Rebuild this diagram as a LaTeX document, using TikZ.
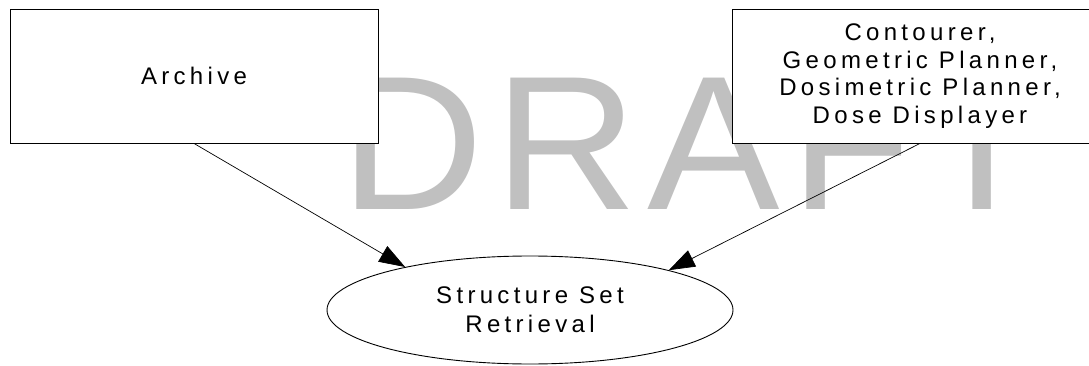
\documentclass[tikz,border=0pt]{standalone}
\usepackage{fontspec}
\usetikzlibrary{arrows.meta,shapes.geometric}
\newfontfamily\labelfont[LetterSpace=18]{Liberation Sans}
\newfontfamily\wmfont[LetterSpace=5.2, FakeStretch=1.04]{Liberation Sans}
\definecolor{wmgray}{RGB}{192,192,192}
\tikzset{
  box/.style={draw=black, fill=white, line width=0.9pt, inner sep=0pt,
    minimum height=134pt, align=center,
    font=\labelfont\fontsize{24}{27.5}\selectfont},
  usecase/.style={ellipse, draw=black, fill=white, line width=0.9pt,
    inner sep=0pt, minimum width=406pt, minimum height=108pt, align=center,
    font=\labelfont\fontsize{24}{29.3}\selectfont},
  flow/.style={draw=black, line width=0.7pt,
    -{Triangle[length=26pt, width=18pt]}},
  watermark/.style={text=wmgray, inner sep=0pt, anchor=base west,
    font=\wmfont\fontsize{191}{191}\selectfont}
}
\begin{document}
\begin{tikzpicture}[x=1pt, y=-1pt]
  \useasboundingbox (0,0) rectangle (1089,366);
  \clip (0,0) rectangle (1089,366);
  % background stamp
  \node[watermark] (stamp) at (340.7,210) {DRAFT};
  % actors
  \node[box, minimum width=368pt] (archive) at (194,76) {Archive};
  \node[box, minimum width=376pt] (tools) at (920,76)
    {Contourer,\\Geometric Planner,\\Dosimetric Planner,\\Dose Displayer};
  % use case
  \node[usecase] (retrieval) at (530,310) {Structure Set\\Retrieval};
  % associations
  \draw[flow] (archive.south) -- (retrieval.161.7);
  \draw[flow] (tools.south) -- (retrieval.16.5);
\end{tikzpicture}
\end{document}
